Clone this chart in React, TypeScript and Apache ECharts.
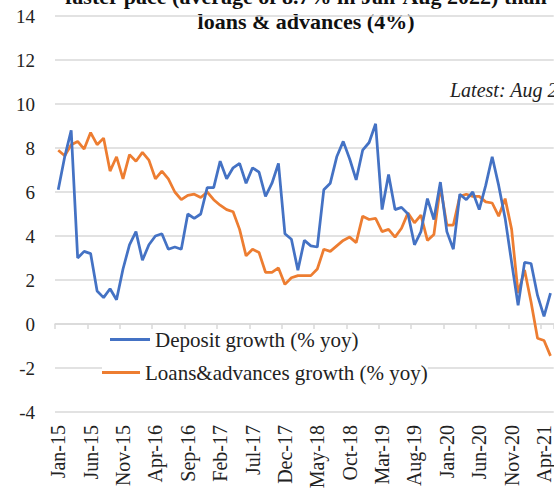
import React, { useEffect, useRef } from "react";
import * as echarts from "echarts";

const monthNames = ["Jan", "Feb", "Mar", "Apr", "May", "Jun", "Jul", "Aug", "Sep", "Oct", "Nov", "Dec"];
const firstYear = 15;
const monthCount = 77; // Jan-15 .. May-21 (visible part of the chart)
const categories: string[] = [];
for (let i = 0; i < monthCount; i++) {
  categories.push(monthNames[i % 12] + "-" + (firstYear + Math.floor(i / 12)));
}

const depositGrowth = [
  6.1, 7.6, 8.8, 3.0, 3.3, 3.2, 1.5, 1.2, 1.6, 1.1,
  2.5, 3.6, 4.2, 2.9, 3.6, 4.0, 4.1, 3.4, 3.5, 3.4,
  5.0, 4.8, 5.0, 6.2, 6.2, 7.4, 6.6, 7.1, 7.3, 6.4,
  7.1, 6.9, 5.8, 6.4, 7.3, 4.1, 3.85, 2.45, 3.8, 3.55,
  3.5, 6.1, 6.4, 7.6, 8.3, 7.5, 6.55, 7.9, 8.25, 9.1,
  5.2, 6.8, 5.2, 5.3, 5.0, 3.6, 4.2, 5.7, 4.75, 6.45,
  4.2, 3.4, 5.9, 5.65, 6.0, 5.2, 6.3, 7.6, 6.3, 4.8,
  2.8, 0.85, 2.8, 2.75, 1.3, 0.35, 1.4,
];

const loansGrowth = [
  7.9, 7.65, 8.15, 8.3, 7.95, 8.7, 8.15, 8.45, 6.95, 7.6,
  6.6, 7.7, 7.4, 7.8, 7.45, 6.6, 6.95, 6.6, 6.0, 5.65,
  5.85, 5.9, 5.75, 6.0, 5.65, 5.4, 5.2, 5.1, 4.3, 3.1,
  3.4, 3.25, 2.35, 2.35, 2.55, 1.8, 2.1, 2.2, 2.2, 2.2,
  2.5, 3.4, 3.3, 3.55, 3.8, 3.95, 3.7, 4.9, 4.75, 4.8,
  4.2, 4.3, 3.95, 4.35, 5.05, 4.6, 4.95, 3.8, 4.07, 6.25,
  4.5, 4.5, 5.8, 5.9, 5.8, 5.8, 5.55, 5.5, 4.9, 5.7,
  4.3, 1.4, 2.45, 1.0, -0.65, -0.75, -1.45,
];

const yMin = -4;
const yMax = 14;
const yInterval = 2;

const depositName = "Deposit growth (% yoy)";
const loansName = "Loans&advances growth (% yoy)";
const titleLine1 = "faster pace (average of 8.7% in Jan-Aug 2022) than";
const titleLine2 = "loans & advances (4%)";
const noteText = "Latest: Aug 2022";

const FONT = "'Liberation Serif', 'Times New Roman', serif";
const BLUE = "#4472C4";
const ORANGE = "#ED7D31";
const GRID = "#d9d9d9";

export default function App() {
  const ref = useRef<HTMLDivElement>(null);
  useEffect(() => {
    document.body.style.margin = "0";
    const chart = echarts.init(ref.current!, null, { renderer: "svg" });
    chart.setOption({
      animation: false,
      backgroundColor: "#ffffff",
      textStyle: { fontFamily: FONT },
      grid: { left: 55, top: 16, width: 6.5 * monthCount, height: 396, containLabel: false },
      xAxis: [
        {
          type: "category",
          data: categories,
          boundaryGap: true,
          position: "bottom",
          axisLine: { show: false, onZero: false },
          axisTick: { show: false },
          splitLine: { show: false },
          axisLabel: {
            interval: 4,
            rotate: 90,
            margin: 13,
            fontSize: 20,
            color: "#222",
            fontFamily: FONT,
          },
        },
        {
          type: "category",
          data: categories,
          boundaryGap: true,
          position: "top",
          axisLine: { show: true, onZero: true, lineStyle: { color: GRID, width: 1.5 } },
          axisTick: { show: true, inside: true, length: 5, interval: 4, lineStyle: { color: GRID, width: 1.5 } },
          axisLabel: { show: false },
          splitLine: { show: false },
        },
      ],
      yAxis: {
        type: "value",
        min: yMin,
        max: yMax,
        interval: yInterval,
        axisLine: { show: false },
        axisTick: { show: false },
        splitLine: { show: true, lineStyle: { color: GRID, width: 1.5 } },
        axisLabel: { fontSize: 19, color: "#222", margin: 20, fontFamily: FONT },
      },
      legend: [
        {
          data: [depositName],
          left: 110,
          top: 329,
          padding: 0,
          icon: "rect",
          itemWidth: 40,
          itemHeight: 3,
          backgroundColor: "#ffffff",
          textStyle: { fontSize: 21, color: "#222", fontFamily: FONT },
        },
        {
          data: [loansName],
          left: 102,
          top: 362,
          padding: 0,
          icon: "rect",
          itemWidth: 38,
          itemHeight: 3,
          backgroundColor: "#ffffff",
          textStyle: { fontSize: 21, color: "#222", fontFamily: FONT },
        },
      ],
      series: [
        {
          name: depositName,
          type: "line",
          xAxisIndex: 0,
          data: depositGrowth,
          symbol: "none",
          color: BLUE,
          lineStyle: { color: BLUE, width: 2.75 },
          z: 3,
        },
        {
          name: loansName,
          type: "line",
          xAxisIndex: 0,
          data: loansGrowth,
          symbol: "none",
          color: ORANGE,
          lineStyle: { color: ORANGE, width: 2.75 },
          z: 2,
        },
      ],
      graphic: [
        {
          type: "text",
          x: 65,
          y: -4,
          style: {
            text: titleLine1,
            fontSize: 22,
            fontWeight: "bold",
            fontFamily: FONT,
            fill: "#111",
            textAlign: "left",
            textVerticalAlign: "middle",
          },
        },
        {
          type: "text",
          x: 306,
          y: 21,
          style: {
            text: titleLine2,
            fontSize: 22,
            fontWeight: "bold",
            fontFamily: FONT,
            fill: "#111",
            textAlign: "center",
            textVerticalAlign: "middle",
          },
        },
        {
          type: "text",
          x: 450,
          y: 90,
          style: {
            text: noteText,
            fontSize: 20,
            fontStyle: "italic",
            fontFamily: FONT,
            fill: "#222",
            textAlign: "left",
            textVerticalAlign: "middle",
          },
        },
      ],
    });
    return () => chart.dispose();
  }, []);
  return <div ref={ref} style={{ width: 554, height: 493 }} />;
}
